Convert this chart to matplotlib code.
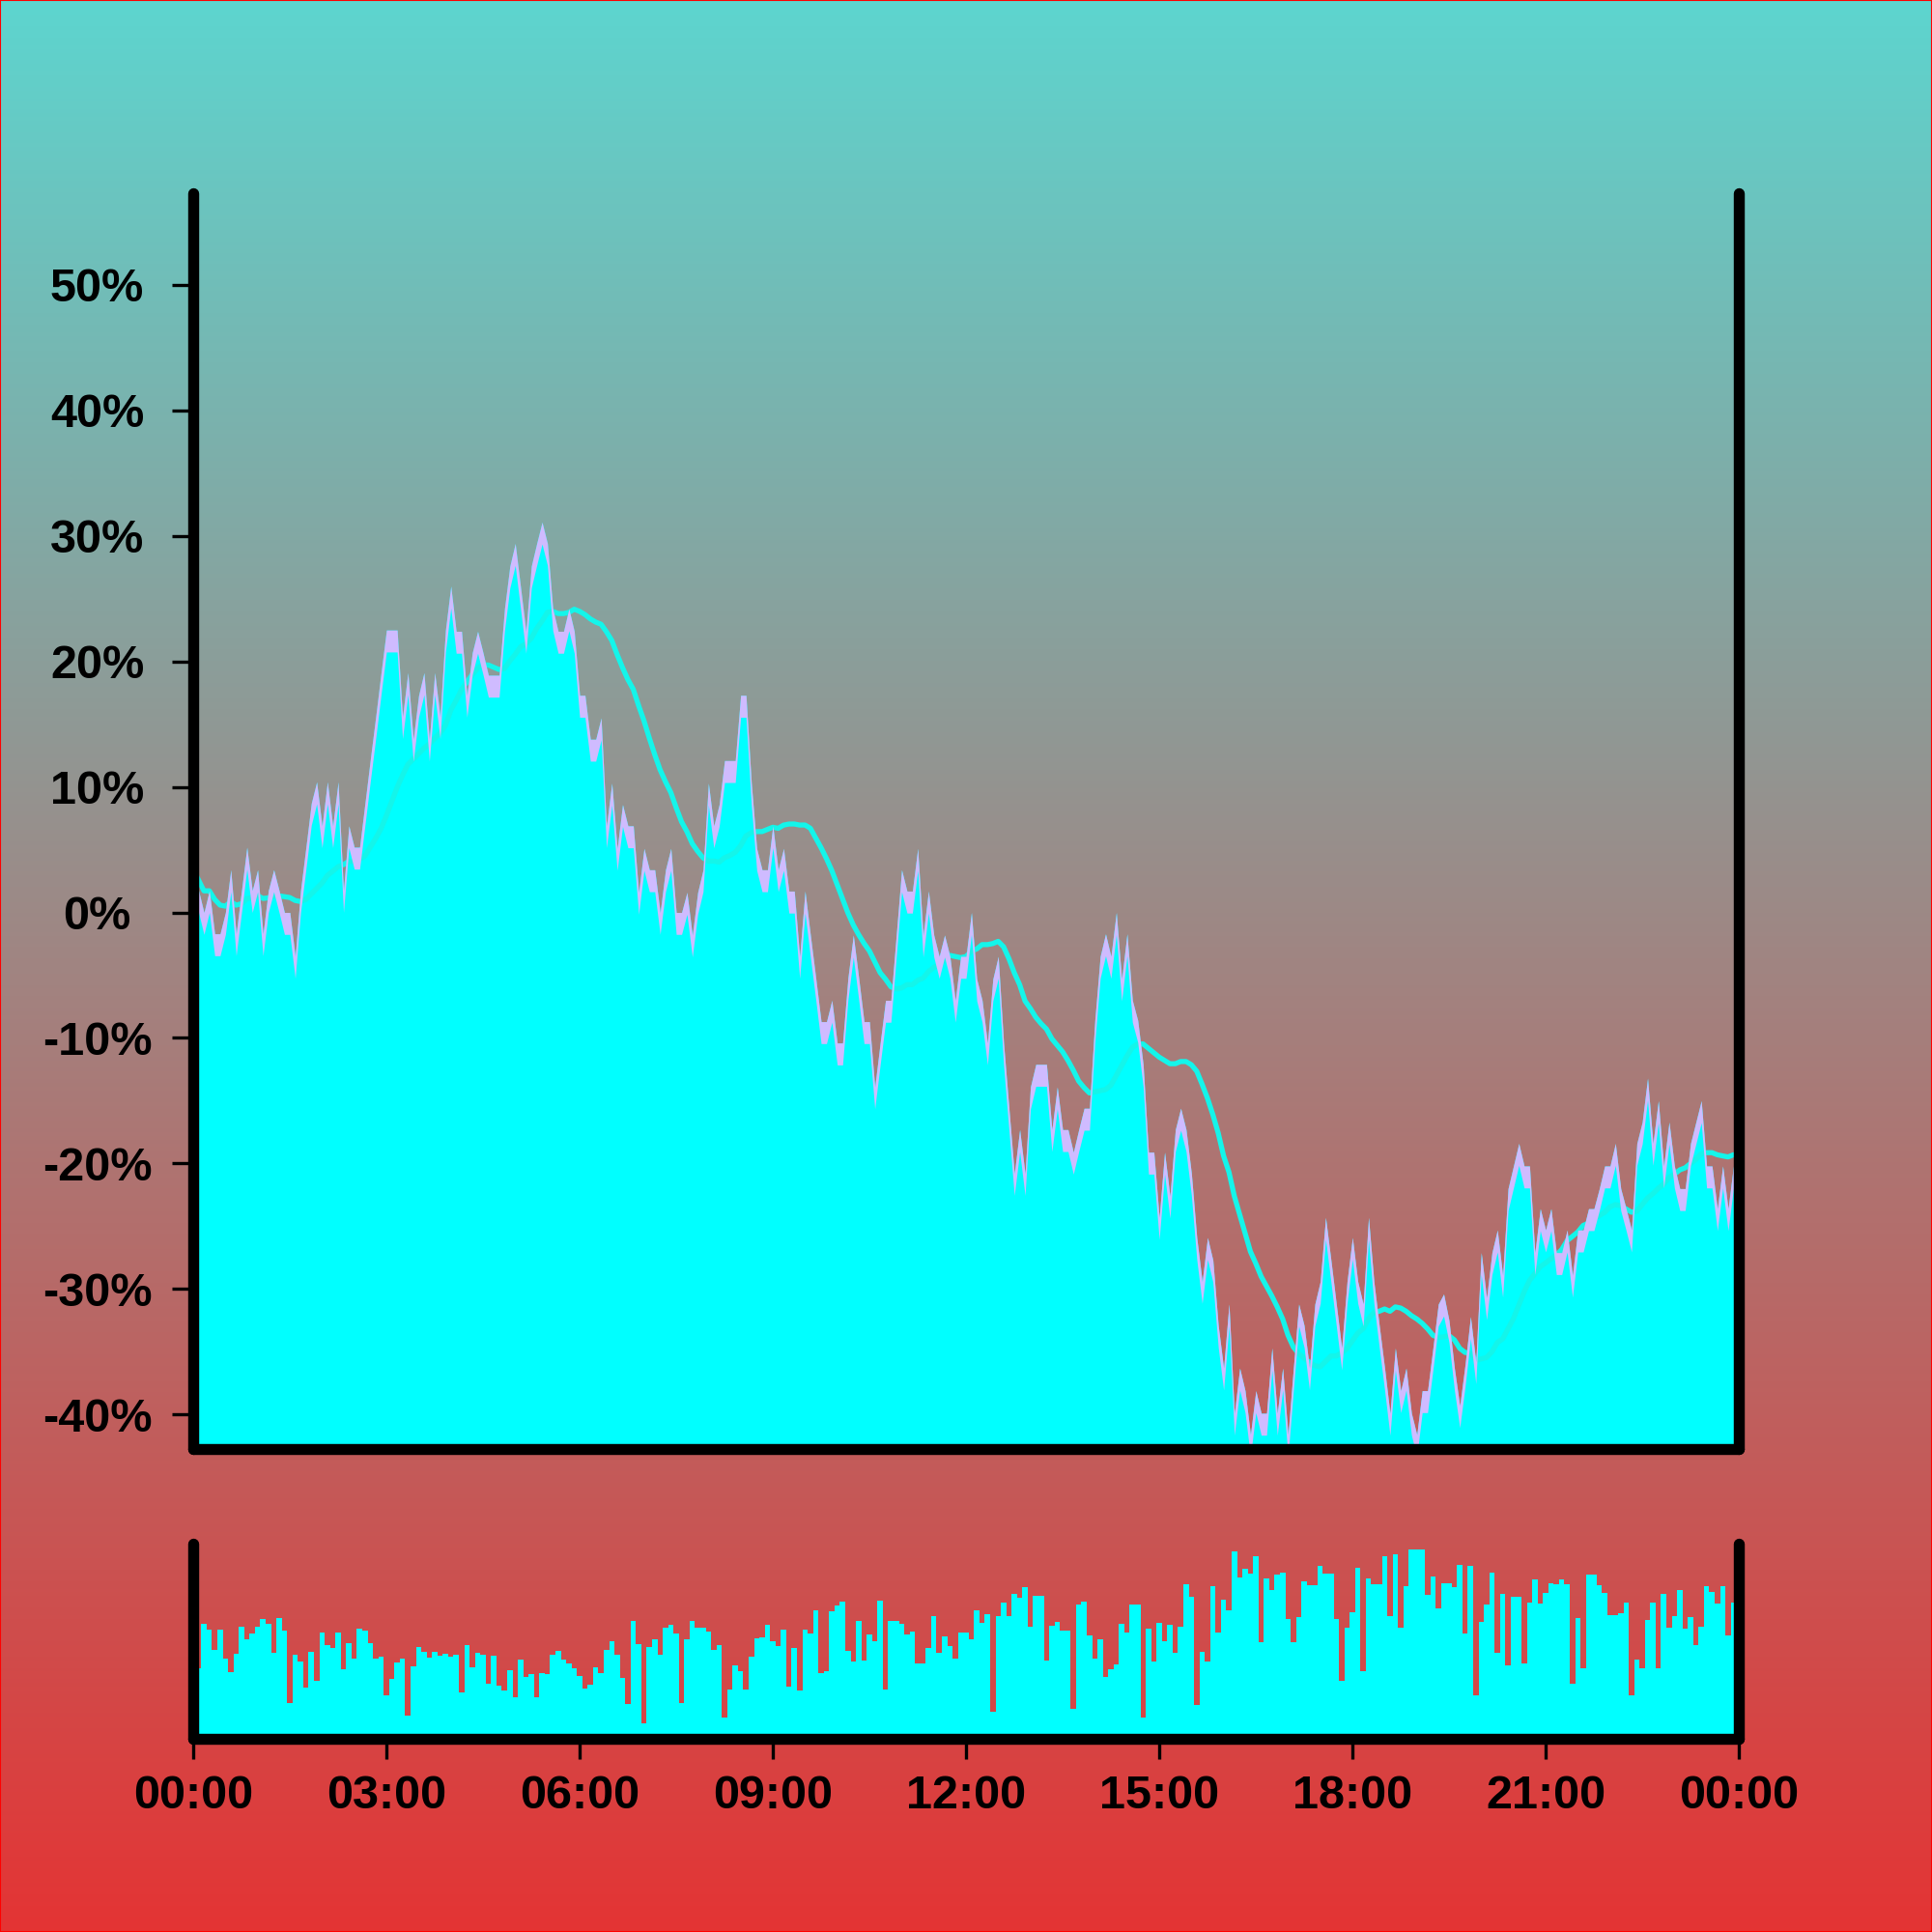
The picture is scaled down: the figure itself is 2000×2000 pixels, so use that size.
import numpy as np
import pandas as pd
import matplotlib
matplotlib.use("Agg")
import matplotlib.pyplot as plt
from matplotlib.patches import Rectangle

# one value every 5 minutes, 00:00 .. 23:55
STEP_MIN = 5

change_pct = [
    3.4, 1.75, 0, 1.75, -1.7, -1.7, 0, 3.4, -1.7, 1.75, 5.2, 1.75,
    3.4, -1.7, 1.75, 3.4, 1.75, 0, 0, -3.5, 1.75, 5.2, 8.7, 10.4,
    6.9, 10.4, 6.9, 10.4, 1.75, 6.9, 5.2, 5.2, 8.7, 12.2, 15.6, 19.1,
    22.5, 22.5, 22.5, 15.6, 19.1, 13.8, 17.3, 19.1, 13.8, 19.1, 15.6, 22.5,
    26.0, 22.4, 22.4, 17.3, 20.7, 22.4, 20.7, 18.9, 18.9, 18.9, 24.2, 27.6,
    29.4, 25.9, 22.4, 27.6, 29.4, 31.1, 29.4, 24.2, 22.4, 22.4, 24.2, 22.4,
    17.3, 17.3, 13.8, 13.8, 15.5, 6.9, 10.3, 5.1, 8.6, 6.9, 6.9, 1.6,
    5.1, 3.4, 3.4, 0, 3.4, 5.1, 0, 0, 1.6, -1.8, 1.6, 3.4,
    10.3, 6.9, 8.6, 12.1, 12.1, 12.1, 17.3, 17.3, 10.3, 5.1, 3.4, 3.4,
    6.9, 3.4, 5.1, 1.7, 1.7, -3.5, 1.7, -1.8, -5.2, -8.7, -8.7, -7.0,
    -10.4, -10.4, -5.2, -1.8, -5.2, -8.7, -8.7, -13.9, -10.4, -7.0, -7.0, -1.8,
    3.4, 1.7, 1.7, 5.1, -1.8, 1.7, -1.8, -3.5, -1.8, -3.5, -7.0, -3.5,
    -3.5, 0, -5.3, -7.0, -10.4, -5.3, -3.5, -10.4, -15.6, -20.8, -17.3, -20.8,
    -13.9, -12.1, -12.1, -12.1, -17.3, -13.9, -17.3, -17.3, -19.1, -17.3, -15.6, -15.6,
    -8.6, -3.5, -1.7, -3.5, 0, -5.3, -1.7, -7.0, -8.6, -12.1, -19.1, -19.1,
    -24.3, -19.1, -22.6, -17.3, -15.6, -17.3, -20.8, -25.9, -29.4, -25.9, -27.7, -32.9,
    -36.3, -31.2, -39.9, -36.3, -38.1, -41.6, -38.1, -39.9, -39.9, -34.7, -39.9, -36.3,
    -41.6, -36.3, -31.2, -32.9, -36.3, -31.2, -29.4, -24.3, -27.7, -31.2, -34.7, -29.4,
    -25.9, -29.4, -31.2, -24.3, -29.4, -32.9, -36.3, -39.9, -34.7, -38.1, -36.3, -39.9,
    -41.6, -38.1, -38.1, -34.7, -31.2, -30.4, -32.5, -36.3, -39.3, -36.0, -32.2, -35.8,
    -27.1, -30.7, -27.1, -25.3, -28.9, -22.0, -20.2, -18.4, -20.2, -20.2, -27.1, -23.6,
    -25.3, -23.6, -27.1, -27.1, -25.3, -28.9, -25.3, -25.3, -23.6, -23.6, -22.0, -20.2,
    -20.2, -18.4, -22.0, -23.6, -25.3, -18.4, -16.7, -13.2, -18.4, -15.0, -20.2, -16.7,
    -20.2, -22.0, -22.0, -18.4, -16.7, -15.0, -20.2, -20.2, -23.6, -20.2, -23.6, -20.2,
]

volume = [
    36.3, 36.3, 58.9, 55.8, 45.7, 55.8, 41.3, 34.2, 43.4, 57.6, 51.2, 54.1,
    57.3, 61.6, 59.1, 44.2, 61.7, 55.4, 18.3, 43.2, 39.4, 26.4, 44.7, 29.5,
    54.3, 48.0, 46.5, 54.3, 35.8, 48.8, 41.3, 56.4, 55.6, 49.0, 41.3, 41.9,
    22.4, 30.5, 39.1, 41.3, 12.0, 37.1, 47.2, 44.6, 41.6, 44.6, 42.6, 43.4,
    42.2, 43.2, 23.8, 47.9, 36.5, 44.1, 43.2, 28.1, 42.4, 27.2, 24.8, 35.0,
    21.5, 40.4, 31.8, 33.0, 21.3, 33.7, 33.2, 42.9, 45.0, 40.6, 38.4, 36.1,
    32.0, 25.6, 27.6, 36.6, 33.7, 45.4, 49.8, 42.9, 31.4, 18.0, 60.2, 48.3,
    7.9, 47.0, 51.0, 42.9, 56.9, 58.3, 54.1, 18.2, 51.0, 60.6, 56.8, 56.8,
    55.0, 45.7, 47.9, 10.7, 25.4, 37.5, 34.5, 25.2, 42.2, 51.3, 51.8, 58.4,
    50.0, 47.4, 55.9, 26.7, 46.5, 24.6, 56.1, 53.8, 66.0, 33.8, 34.7, 65.2,
    68.3, 70.1, 45.2, 39.6, 60.2, 40.3, 53.6, 50.0, 70.8, 25.1, 60.4, 60.4,
    59.1, 53.3, 54.8, 38.4, 38.4, 46.7, 62.9, 44.1, 52.5, 47.4, 41.1, 54.6,
    54.3, 51.2, 65.7, 59.4, 63.9, 14.0, 62.7, 69.6, 62.7, 74.3, 72.4, 77.7,
    57.3, 73.3, 73.3, 40.1, 57.9, 60.1, 55.4, 55.4, 15.5, 68.8, 70.1, 53.0,
    41.1, 50.8, 31.8, 35.6, 38.0, 58.9, 54.5, 68.8, 68.8, 10.7, 56.6, 39.6,
    59.4, 49.8, 58.6, 44.1, 57.4, 79.2, 72.6, 17.2, 44.6, 39.6, 78.2, 54.5,
    71.5, 65.8, 96.0, 82.5, 87.0, 84.8, 93.6, 49.5, 82.2, 76.2, 84.0, 85.0,
    61.6, 49.5, 62.2, 80.9, 78.7, 78.7, 88.8, 84.5, 84.5, 61.2, 29.9, 56.9,
    64.7, 87.5, 34.7, 82.0, 79.0, 79.0, 93.4, 62.9, 94.7, 56.8, 78.2, 97.0,
    96.9, 96.9, 73.8, 83.2, 66.8, 79.9, 79.9, 77.6, 88.9, 54.0, 88.4, 22.1,
    59.9, 69.0, 85.0, 44.2, 74.1, 37.6, 72.9, 72.9, 38.6, 69.6, 81.5, 69.3,
    74.6, 79.5, 79.4, 81.5, 79.2, 28.1, 61.7, 36.3, 84.0, 84.0, 78.5, 74.8,
    63.2, 63.2, 64.5, 69.8, 22.3, 40.6, 36.3, 61.1, 70.0, 36.3, 74.4, 56.8,
    62.7, 76.1, 56.4, 62.2, 48.0, 57.4, 78.1, 75.2, 69.3, 78.2, 53.0, 70.0,
]

band_pct = 1.75          # height of the lavender band on top of the area
ma_window = 20           # rolling mean, in 5-minute steps

y_ticks = [-40, -30, -20, -10, 0, 10, 20, 30, 40, 50]
y_tick_labels = [f"{v}%" for v in y_ticks]
x_tick_hours = [0, 3, 6, 9, 12, 15, 18, 21, 24]
x_tick_labels = ["00:00", "03:00", "06:00", "09:00", "12:00",
                 "15:00", "18:00", "21:00", "00:00"]

CYAN = "#00ffff"
MA_CYAN = "#14f5ea"
LAVENDER = "#cfbbff"
BG_TOP = np.array([93, 213, 207]) / 255
BG_BOTTOM = np.array([228, 52, 52]) / 255

plt.rcParams["font.family"] = ["Liberation Sans", "DejaVu Sans"]
plt.rcParams["font.weight"] = "bold"

hours = np.arange(len(change_pct)) * STEP_MIN / 60
pct = np.asarray(change_pct)
ma = pd.Series(pct).rolling(ma_window, min_periods=1).mean()

fig = plt.figure(figsize=(20, 20), dpi=100)

# vertical gradient background
bg = fig.add_axes([0, 0, 1, 1], zorder=-10)
t = np.linspace(0, 1, 512)[:, None, None]
bg.imshow(BG_TOP + (BG_BOTTOM - BG_TOP) * t, aspect="auto",
          extent=[0, 1, 0, 1], origin="upper")
bg.axis("off")

ax = fig.add_axes([0.1, 0.25, 0.8, 0.65], facecolor="none")
vax = fig.add_axes([0.1, 0.1, 0.8, 0.101], facecolor="none", sharex=ax)

ymin, ymax = -42.75, 57.3
ax.fill_between(hours, pct, ymin - 5, color=CYAN, lw=0, zorder=2)
ax.plot(hours, ma, color=MA_CYAN, lw=3.8, zorder=3, solid_capstyle="round")
ax.fill_between(hours, pct - band_pct, pct, color=LAVENDER, lw=0, zorder=4)
ax.set_ylim(ymin, ymax)
ax.set_xlim(0, 24)

vax.bar(hours, volume, width=STEP_MIN / 60, color=CYAN, lw=0, align="center")
vax.set_ylim(0, 100)

for a in (ax, vax):
    a.spines["top"].set_visible(False)
    for side in ("left", "right", "bottom"):
        a.spines[side].set_linewidth(8.2)
        a.spines[side].set_color("black")
        a.spines[side].set_capstyle("round")
        a.spines[side].set_zorder(6)

ax.set_yticks(y_ticks)
ax.set_yticklabels(y_tick_labels)
ax.tick_params(axis="y", direction="out", length=15.6, width=2.4, pad=56,
               labelsize=35, colors="black")
for lbl in ax.get_yticklabels():
    lbl.set_ha("center")
    lbl.set_fontweight("bold")
ax.tick_params(axis="x", bottom=False, labelbottom=False)

vax.set_yticks([])
vax.set_xticks(x_tick_hours)
vax.set_xticklabels(x_tick_labels)
vax.tick_params(axis="x", direction="out", length=15, width=2.4, pad=12,
                labelsize=35, colors="black")
for lbl in vax.get_xticklabels():
    lbl.set_fontweight("bold")

fig.add_artist(Rectangle((0, 0), 1, 1, transform=fig.transFigure, fill=False,
                         edgecolor="red", lw=1.5, zorder=20))

fig.savefig("out.png", dpi=100)
